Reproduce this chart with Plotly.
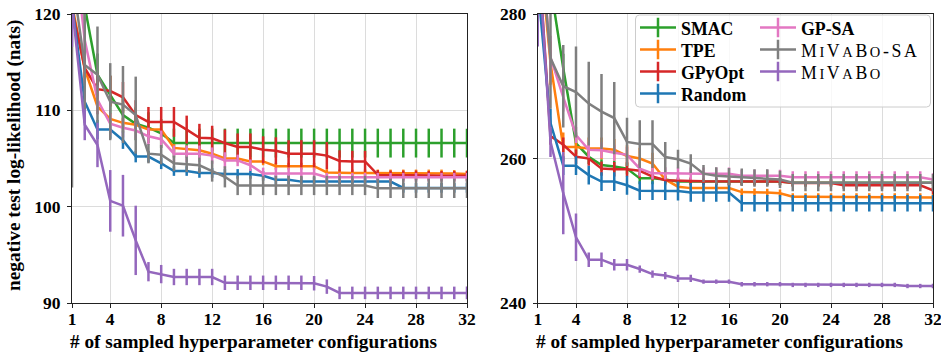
import plotly.graph_objects as go

# ---------------- data ----------------
iters = list(range(1, 33))

# Left panel (nats)
L_SMAC = [130, 120.8, 113.7, 111.6, 109.5, 108.6, 108.2, 107.6, 106.6, 106.6, 106.6, 106.6, 106.6, 106.6, 106.6, 106.6,
          106.6, 106.6, 106.6, 106.6, 106.6, 106.6, 106.6, 106.6, 106.6, 106.6, 106.6, 106.6, 106.6, 106.6, 106.6, 106.6]
L_SMAC_err = [3, 2.5, 2.2, 2, 1.8, 1.7, 1.6, 1.5, 1.5, 1.5, 1.5, 1.5, 1.5, 1.5, 1.5, 1.5,
              1.5, 1.5, 1.5, 1.5, 1.5, 1.5, 1.5, 1.5, 1.5, 1.5, 1.5, 1.5, 1.5, 1.5, 1.5, 1.5]
L_TPE = [121, 114.3, 110.4, 109.1, 108.7, 108.5, 108.0, 108.0, 106.1, 105.95, 105.85, 105.5, 105.0, 105.0, 104.7, 104.7,
         104.2, 104.2, 104.2, 104.2, 103.55, 103.5, 103.5, 103.5, 103.5, 103.5, 103.5, 103.5, 103.5, 103.5, 103.45, 103.4]
L_TPE_err = [1.0, 0.9, 0.8, 0.6, 0.5, 0.5, 0.5, 0.5, 0.4, 0.4, 0.4, 0.4, 0.4, 0.4, 0.4, 0.4,
             0.35, 0.35, 0.35, 0.35, 0.35, 0.35, 0.35, 0.35, 0.35, 0.35, 0.35, 0.35, 0.35, 0.35, 0.35, 0.35]
L_GPY = [120.5, 114.4, 112.2, 112.0, 111.35, 109.5, 108.8, 108.8, 108.8, 108.0, 107.15, 107.1, 106.6, 106.2, 106.2, 105.9,
         105.8, 105.5, 105.5, 105.5, 105.3, 104.75, 104.7, 104.7, 103.3, 103.25, 103.25, 103.25, 103.2, 103.2, 103.2, 103.2]
L_GPY_err = [2, 1.8, 1.6, 1.6, 1.6, 1.55, 1.55, 1.55, 1.55, 1.45, 1.45, 1.3, 1.4, 1.4, 1.4, 1.4,
             1.4, 1.4, 1.4, 1.4, 1.4, 1.1, 1.1, 1.1, 0.5, 0.5, 0.5, 0.5, 0.5, 0.5, 0.5, 0.5]
L_RAND = [121, 110.9, 108.0, 108.0, 106.9, 105.2, 105.2, 104.5, 103.7, 103.7, 103.5, 103.5, 103.4, 103.4, 103.4, 103.2,
          102.8, 102.8, 102.6, 102.6, 102.6, 102.6, 102.6, 102.6, 102.6, 102.6, 101.95, 101.95, 101.95, 101.95, 101.95, 101.95]
L_RAND_err = [2, 1.5, 1.0, 0.95, 0.9, 0.6, 0.6, 0.6, 0.5, 0.5, 0.5, 0.5, 0.5, 0.5, 0.5, 0.5,
              0.5, 0.5, 0.5, 0.5, 0.5, 0.5, 0.5, 0.5, 0.5, 0.5, 0.5, 0.5, 0.5, 0.5, 0.5, 0.5]
L_GPSA = [129, 117.3, 111.1, 108.6, 108.2, 107.9, 107.3, 107.0, 105.5, 105.5, 105.5, 105.3, 104.8, 104.8, 104.3, 103.45,
          103.45, 103.45, 103.45, 103.45, 103.05, 103.05, 103.05, 103.05, 103.05, 103.05, 103.05, 103.05, 103.05, 103.05, 103.05, 103.05]
L_GPSA_err = [3, 2, 1.5, 1.15, 1.0, 0.9, 0.9, 0.9, 0.85, 0.85, 0.85, 0.85, 0.85, 0.6, 0.6, 0.6,
              0.6, 0.6, 0.6, 0.6, 0.45, 0.45, 0.45, 0.45, 0.45, 0.45, 0.45, 0.45, 0.45, 0.45, 0.45, 0.45]
L_MVSA = [124, 114.7, 113.7, 110.9, 110.6, 109.5, 105.5, 105.4, 104.5, 104.4, 104.3, 103.7, 103.1, 102.2, 102.2, 102.2,
          102.2, 102.2, 102.2, 102.2, 102.2, 102.2, 102.2, 102.2, 101.9, 101.9, 101.9, 101.9, 101.9, 101.9, 101.9, 101.9]
L_MVSA_err = [22, 6, 5, 4, 4, 4, 1.0, 1.0, 0.8, 0.8, 0.8, 1.1, 1.1, 1.0, 1.0, 1.0,
              1.0, 1.0, 1.0, 1.0, 1.0, 1.0, 1.0, 1.0, 1.0, 1.0, 1.0, 1.0, 1.0, 1.0, 1.0, 1.0]
L_MV = [121, 108.5, 106.4, 100.6, 100.1, 96.5, 93.25, 93.0, 92.7, 92.7, 92.7, 92.7, 92.1, 92.1, 92.1, 92.1,
        92.1, 92.1, 92.1, 92.05, 91.7, 91.05, 91.05, 91.05, 91.05, 91.05, 91.05, 91.05, 91.05, 91.05, 91.05, 91.05]
L_MV_err = [4.4, 1.6, 2.3, 3.2, 3.2, 3.6, 1.0, 0.95, 0.85, 0.85, 0.85, 0.85, 0.75, 0.75, 0.75, 0.75,
            0.75, 0.75, 0.75, 0.75, 0.75, 0.65, 0.65, 0.65, 0.65, 0.65, 0.65, 0.65, 0.65, 0.65, 0.65, 0.65]

# Right panel (nats)
R_SMAC = [300, 284, 272.5, 262.1, 260.25, 259.1, 258.9, 258.6, 257.25, 257.25, 257.1, 256.8, 256.8, 256.8, 256.8, 256.8,
          256.8, 256.8, 256.8, 256.8, 256.65, 256.65, 256.65, 256.65, 256.65, 256.65, 256.65, 256.65, 256.65, 256.65, 256.65, 256.65]
R_SMAC_err = [4, 3, 2, 1.5, 1.0, 0.8, 0.8, 0.8, 0.8, 0.8, 0.5, 0.5, 0.5, 0.5, 0.5, 0.5,
              0.5, 0.5, 0.5, 0.5, 0.5, 0.5, 0.5, 0.5, 0.5, 0.5, 0.5, 0.5, 0.5, 0.5, 0.5, 0.5]
R_TPE = [292, 273.2, 261.6, 261.6, 261.4, 261.4, 261.2, 260.35, 260.0, 259.3, 257.1, 256.1, 255.9, 255.9, 255.9, 255.9,
         255.35, 255.35, 255.3, 255.2, 254.7, 254.7, 254.7, 254.7, 254.7, 254.7, 254.7, 254.7, 254.7, 254.7, 254.7, 254.6]
R_TPE_err = [4, 3, 2, 1.5, 1.5, 1.5, 1.5, 1.5, 1.5, 1.5, 0.8, 0.8, 0.8, 0.8, 0.8, 0.8,
             0.5, 0.5, 0.5, 0.5, 0.5, 0.5, 0.5, 0.5, 0.5, 0.5, 0.5, 0.5, 0.5, 0.5, 0.5, 0.5]
R_GPY = [290, 263.1, 261.9, 260.25, 260.0, 258.6, 258.5, 258.5, 258.3, 257.5, 257.0, 256.9, 256.9, 256.85, 256.85, 256.8,
         256.8, 256.8, 256.8, 256.8, 256.6, 256.6, 256.6, 256.6, 256.3, 256.3, 256.3, 256.3, 256.3, 256.3, 256.3, 255.6]
R_GPY_err = [4, 1.2, 1.0, 1.0, 1.0, 1.0, 1.0, 1.0, 1.0, 0.5, 0.5, 0.5, 0.5, 0.5, 0.5, 0.5,
             0.5, 0.5, 0.5, 0.5, 0.5, 0.5, 0.5, 0.5, 0.5, 0.5, 0.5, 0.5, 0.5, 0.5, 0.5, 0.5]
R_RAND = [284, 264.9, 259.0, 259.0, 257.7, 256.8, 256.8, 256.3, 255.55, 255.55, 255.55, 255.5, 255.3, 255.3, 255.3, 255.3,
          253.8, 253.8, 253.8, 253.8, 253.8, 253.8, 253.8, 253.8, 253.8, 253.8, 253.8, 253.8, 253.8, 253.8, 253.8, 253.8]
R_RAND_err = [3, 2, 1.3, 1.3, 1.3, 1.3, 1.3, 1.3, 1.3, 1.3, 1.3, 1.3, 1.3, 1.3, 1.3, 1.3,
              1.15, 1.15, 1.15, 1.15, 1.15, 1.15, 1.15, 1.15, 1.15, 1.15, 1.15, 1.15, 1.15, 1.15, 1.15, 1.15]
R_GPSA = [295, 274.0, 268.5, 263.25, 261.2, 261.15, 260.8, 260.5, 258.6, 257.95, 257.95, 257.9, 257.9, 257.9, 257.9, 257.9,
          257.6, 257.6, 257.6, 257.6, 257.4, 257.4, 257.4, 257.4, 257.4, 257.4, 257.4, 257.4, 257.4, 257.4, 257.4, 257.1]
R_GPSA_err = [4, 3, 2, 1.1, 1.1, 1.1, 1.1, 1.1, 1.1, 0.85, 0.85, 0.85, 0.85, 0.85, 0.85, 0.85,
              0.85, 0.85, 0.85, 0.85, 0.85, 0.85, 0.85, 0.85, 0.85, 0.85, 0.85, 0.85, 0.85, 0.85, 0.85, 0.85]
R_MVSA = [294, 273.9, 270.0, 269.2, 267.6, 266.5, 265.6, 262.3, 262.0, 262.0, 260.2, 259.9, 259.3, 257.9, 257.6, 257.5,
          257.4, 257.3, 257.3, 257.1, 256.65, 256.65, 256.65, 256.65, 256.65, 256.65, 256.65, 256.65, 256.65, 256.65, 256.65, 256.65]
R_MVSA_err = [8, 7, 5.7, 6.3, 5.8, 5.2, 5.0, 3.35, 3.3, 3.3, 2.1, 1.3, 1.3, 1.2, 1.2, 1.2,
              1.2, 1.2, 1.2, 1.2, 1.2, 1.2, 1.2, 1.2, 1.2, 1.2, 1.2, 1.2, 1.2, 1.2, 1.2, 1.2]
R_MV = [290, 262.3, 255.2, 249.1, 246.0, 246.0, 245.3, 245.3, 244.7, 244.0, 243.8, 243.4, 243.4, 242.95, 242.95, 242.95,
        242.6, 242.6, 242.6, 242.6, 242.5, 242.5, 242.5, 242.5, 242.5, 242.5, 242.5, 242.5, 242.5, 242.35, 242.35, 242.35]
R_MV_err = [14.5, 2.1, 5.7, 3.3, 1.0, 1.0, 0.8, 0.8, 0.5, 0.5, 0.5, 0.5, 0.5, 0.3, 0.3, 0.3,
            0.3, 0.3, 0.3, 0.3, 0.3, 0.3, 0.3, 0.3, 0.3, 0.3, 0.3, 0.3, 0.3, 0.3, 0.3, 0.3]

x_ticks = [1, 4, 8, 12, 16, 20, 24, 28, 32]
left_yticks = [90, 100, 110, 120]
right_yticks = [240, 260, 280]

SC = "<span style='font-size:14.5px'>{}</span>"
NAME_MVSA = "<span style='letter-spacing:2.6px'>M" + SC.format("I") + "V" + SC.format("A") + "B" + SC.format("O") + "-SA</span>"
NAME_MV = "<span style='letter-spacing:2.6px'>M" + SC.format("I") + "V" + SC.format("A") + "B" + SC.format("O") + "</span>"

# name, colour, left mean/err, right mean/err, legend column, legend row
methods = [
    ("<b>SMAC</b>", "#2ca02c", L_SMAC, L_SMAC_err, R_SMAC, R_SMAC_err, 0, 0),
    ("<b>TPE</b>", "#ff7f0e", L_TPE, L_TPE_err, R_TPE, R_TPE_err, 0, 1),
    ("<b>GPyOpt</b>", "#d62728", L_GPY, L_GPY_err, R_GPY, R_GPY_err, 0, 2),
    ("<b>Random</b>", "#1f77b4", L_RAND, L_RAND_err, R_RAND, R_RAND_err, 0, 3),
    ("<b>GP-SA</b>", "#e377c2", L_GPSA, L_GPSA_err, R_GPSA, R_GPSA_err, 1, 0),
    (NAME_MVSA, "#7f7f7f", L_MVSA, L_MVSA_err, R_MVSA, R_MVSA_err, 1, 1),
    (NAME_MV, "#9467bd", L_MV, L_MV_err, R_MV, R_MV_err, 1, 2),
]

W, H = 941, 354
LW = 2.5


def px_x(p):
    return p / W


def px_y(p):
    return 1 - p / H


fig = go.Figure()
for name, col, ly, le, ry, re, c, r in methods:
    fig.add_trace(go.Scatter(
        x=iters, y=ly, mode="lines", line=dict(color=col, width=LW),
        error_y=dict(type="data", array=le, visible=True, thickness=2.5, width=0, color=col),
        xaxis="x", yaxis="y", showlegend=False, name=name))
    fig.add_trace(go.Scatter(
        x=iters, y=ry, mode="lines", line=dict(color=col, width=LW),
        error_y=dict(type="data", array=re, visible=True, thickness=2.5, width=0, color=col),
        xaxis="x2", yaxis="y2", showlegend=False, name=name))

# legend entries (line with a vertical error tick), one small legend per entry
legend_cols_x = [635, 755]
legend_rows_y = [28, 50, 72, 94]
legend_layouts = {}
for i, (name, col, ly, le, ry, re, c, r) in enumerate(methods):
    key = "legend" if i == 0 else f"legend{i + 1}"
    fig.add_trace(go.Scatter(
        x=[None], y=[None], mode="lines+markers", name=name, legend=key, showlegend=True,
        line=dict(color=col, width=LW),
        marker=dict(symbol="line-ns", size=14, color=col, line=dict(color=col, width=2.5)),
        xaxis="x2", yaxis="y2"))
    legend_layouts[key] = dict(
        x=px_x(legend_cols_x[c]), y=px_y(legend_rows_y[r]), xanchor="left", yanchor="middle",
        bgcolor="rgba(0,0,0,0)", borderwidth=0, itemwidth=36, tracegroupgap=0,
        font=dict(family="Liberation Serif", size=17.8, color="black"))

tickfont = dict(family="Liberation Serif", size=17.5, color="black", weight="bold")
common_x = dict(range=[1, 32], tickvals=x_ticks, ticks="outside", ticklen=4, tickwidth=1, tickcolor="#222",
                showline=True, mirror=True, linecolor="#222", linewidth=1, showgrid=True, gridcolor="#dcdcdc",
                gridwidth=1, zeroline=False, tickfont=tickfont, ticklabeloverflow="allow",
                ticklabelstandoff=-4, automargin=False)
common_y = dict(ticks="outside", ticklen=4, tickwidth=1, tickcolor="#222", showline=True, mirror=True,
                linecolor="#222", linewidth=1, showgrid=True, gridcolor="#dcdcdc", gridwidth=1,
                zeroline=False, tickfont=tickfont, ticklabeloverflow="allow", ticklabelstandoff=3,
                automargin=False)

ydom = [px_y(303), px_y(14)]
fig.update_layout(
    width=W, height=H, margin=dict(l=0, r=0, t=0, b=0, pad=0, autoexpand=False),
    paper_bgcolor="white", plot_bgcolor="white",
    xaxis=dict(domain=[px_x(72), px_x(467)], anchor="y", **common_x),
    yaxis=dict(domain=ydom, anchor="x", range=[90, 120], tickvals=left_yticks, **common_y),
    xaxis2=dict(domain=[px_x(537.75), px_x(933)], anchor="y2", **common_x),
    yaxis2=dict(domain=ydom, anchor="x2", range=[240, 280], tickvals=right_yticks, **common_y),
    **legend_layouts,
)

# legend frame (rounded, semi-transparent)
x0, x1, y0, y1 = px_x(635.5), px_x(930.5), px_y(107), px_y(15)
rx, ry = 4 / W, 4 / H
path = (f"M{x0+rx},{y0} L{x1-rx},{y0} Q{x1},{y0} {x1},{y0+ry} L{x1},{y1-ry} Q{x1},{y1} {x1-rx},{y1} "
        f"L{x0+rx},{y1} Q{x0},{y1} {x0},{y1-ry} L{x0},{y0+ry} Q{x0},{y0} {x0+rx},{y0} Z")
fig.add_shape(type="path", path=path, xref="paper", yref="paper", layer="above",
              line=dict(color="#cccccc", width=1), fillcolor="rgba(255,255,255,0.8)")

title_font = dict(family="Liberation Serif", size=19.3, color="black", weight="bold")
fig.add_annotation(text="negative test log-likelihood (nats)", x=px_x(14), y=px_y(155), xref="paper", yref="paper",
                   textangle=-90, showarrow=False, font=title_font, xanchor="center", yanchor="middle")
fig.add_annotation(text="# of sampled hyperparameter configurations", x=px_x(254), y=px_y(341), xref="paper",
                   yref="paper", showarrow=False, font=title_font, xanchor="center", yanchor="middle")
fig.add_annotation(text="# of sampled hyperparameter configurations", x=px_x(720), y=px_y(341), xref="paper",
                   yref="paper", showarrow=False, font=title_font, xanchor="center", yanchor="middle")

# the page's default 8px body margin would offset the figure inside the 941x354 window
fig.write_html("out.html", config={"staticPlot": True, "displayModeBar": False},
               post_script="document.body.style.margin='0';document.body.style.overflow='hidden';")
